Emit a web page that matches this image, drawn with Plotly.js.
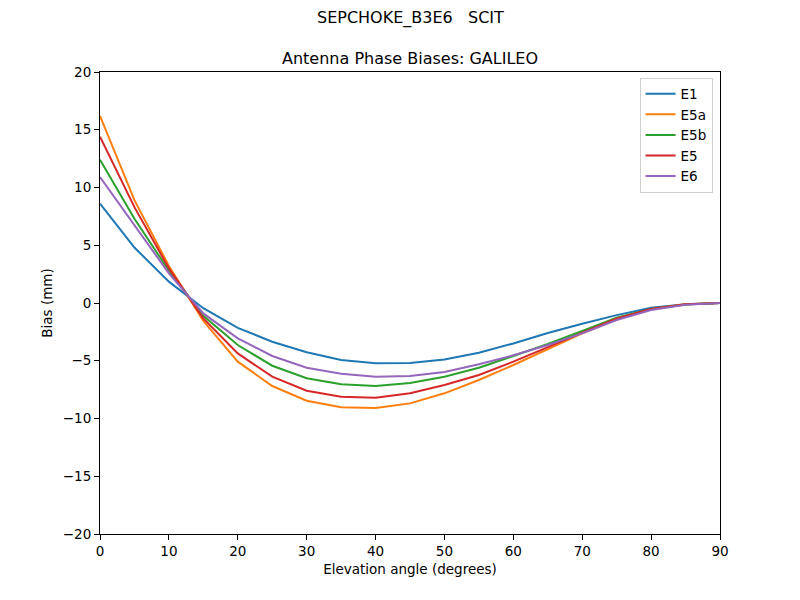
<!DOCTYPE html>
<html>
<head>
<meta charset="utf-8">
<script src="https://cdn.plot.ly/plotly-3.0.1.min.js"></script>
<style>
  body { margin: 0; background: #fff; }
  #chart { width: 800px; height: 600px; }
</style>
</head>
<body>
<div id="chart"></div>
<script>
// elevation angles (degrees)
var elevation = [0, 5, 10, 15, 20, 25, 30, 35, 40, 45, 50, 55, 60, 65, 70, 75, 80, 85, 90];

// bias per frequency (mm)
var e1  = [8.6, 4.8, 1.85, -0.45, -2.15, -3.35, -4.27, -4.93, -5.22, -5.19, -4.9, -4.3, -3.5, -2.6, -1.8, -1.05, -0.42, -0.1, 0.0];
var e5a = [16.2, 8.9, 3.2, -1.55, -5.08, -7.19, -8.46, -9.03, -9.1, -8.69, -7.82, -6.67, -5.37, -3.98, -2.63, -1.41, -0.55, -0.1, 0.0];
var e5b = [12.4, 7.3, 2.8, -1.1, -3.64, -5.43, -6.52, -7.04, -7.19, -6.93, -6.38, -5.6, -4.59, -3.55, -2.42, -1.27, -0.52, -0.12, 0.0];
var e5  = [14.4, 8.3, 3.0, -1.33, -4.36, -6.38, -7.59, -8.11, -8.2, -7.82, -7.1, -6.23, -5.08, -3.84, -2.57, -1.33, -0.52, -0.1, 0.0];
var e6  = [10.9, 6.7, 2.57, -0.9, -3.06, -4.59, -5.6, -6.12, -6.38, -6.32, -5.97, -5.3, -4.53, -3.64, -2.63, -1.47, -0.61, -0.15, 0.0];

var seriesNames = ["E1", "E5a", "E5b", "E5", "E6"];
var seriesData  = [e1, e5a, e5b, e5, e6];
var colors = ["#1f77b4", "#ff7f0e", "#2ca02c", "#d62728", "#9467bd"];

var data = seriesData.map(function (vals, i) {
  return {
    x: elevation,
    y: vals,
    type: "scatter",
    mode: "lines",
    name: seriesNames[i],
    line: { color: colors[i], width: 2 }
  };
});

var font = "DejaVu Sans, sans-serif";

var axisCommon = {
  showgrid: false,
  zeroline: false,
  showline: true,
  mirror: true,
  linecolor: "#000",
  linewidth: 1,
  ticks: "outside",
  ticklen: 5,
  tickwidth: 1,
  tickcolor: "#000",
  tickfont: { family: font, size: 13.5, color: "#000" }
};

var layout = {
  width: 800,
  height: 600,
  paper_bgcolor: "#fff",
  plot_bgcolor: "#fff",
  margin: { l: 100, r: 80, t: 72, b: 66 },
  font: { family: font, color: "#000" },
  showlegend: true,
  legend: {
    x: 0.988, y: 0.988,
    xanchor: "right", yanchor: "top",
    bordercolor: "#d0d0d0",
    borderwidth: 1,
    bgcolor: "rgba(255,255,255,0.8)",
    font: { family: font, size: 13.5, color: "#000" },
    tracegroupgap: 0
  },
  xaxis: Object.assign({}, axisCommon, {
    range: [0, 90],
    tickmode: "array",
    tickvals: [0, 10, 20, 30, 40, 50, 60, 70, 80, 90],
    title: { text: "Elevation angle (degrees)", font: { family: font, size: 13.5 }, standoff: 6 }
  }),
  yaxis: Object.assign({}, axisCommon, {
    range: [-20, 20],
    tickmode: "array",
    tickvals: [-20, -15, -10, -5, 0, 5, 10, 15, 20],
    title: { text: "Bias (mm)", font: { family: font, size: 13.5 }, standoff: 7 }
  }),
  annotations: [
    {
      text: "SEPCHOKE_B3E6\u00a0\u00a0\u00a0SCIT",
      xref: "paper", yref: "paper",
      x: 0.5, y: 1.117,
      xanchor: "center", yanchor: "middle",
      showarrow: false,
      font: { family: font, size: 16, color: "#000" }
    },
    {
      text: "Antenna Phase Biases: GALILEO",
      xref: "paper", yref: "paper",
      x: 0.5, y: 1.03,
      xanchor: "center", yanchor: "middle",
      showarrow: false,
      font: { family: font, size: 16, color: "#000" }
    }
  ]
};

Plotly.newPlot("chart", data, layout, { displayModeBar: false, staticPlot: true });
</script>
</body>
</html>
